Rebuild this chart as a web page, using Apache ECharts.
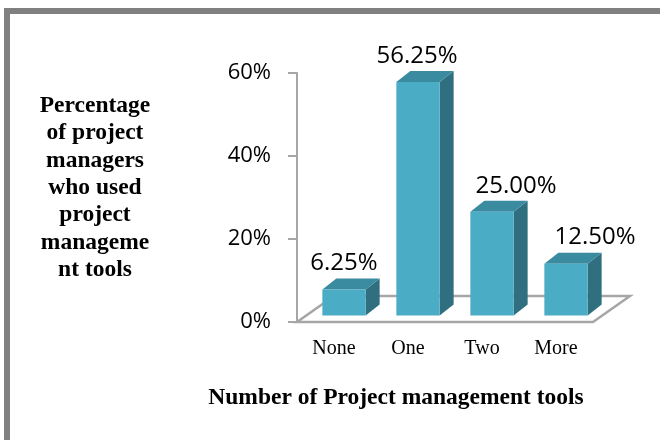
<!DOCTYPE html>
<html>
<head>
<meta charset="utf-8">
<script src="https://cdn.jsdelivr.net/npm/echarts@6/dist/echarts.min.js"></script>
<style>
html,body{margin:0;padding:0;background:#fff}
#grafico{width:660px;height:440px}
</style>
</head>
<body>
<div id="grafico"></div>
<script>
const categorias = ['None', 'One', 'Two', 'More'];
const porcentajes = [6.25, 56.25, 25.00, 12.50];
const ticksY = [0, 20, 40, 60];
const tituloY = ['Percentage', 'of project', 'managers', 'who used', 'project', 'manageme', 'nt tools'];
const tituloX = 'Number of Project management tools';

// ajustes de dibujo (no son datos)
const corrimientoEtiqueta = [0, -1, 24, 29];
const profPiso = [37, -26];
const profBarra = [14, -11];
const frenteBarra = [10, -6.5];

var grafico = document.getElementById('grafico');
var myChart = echarts.init(grafico);

function dibujarPiso(params, api){
    let cs = params.coordSys;
    let yf = cs.y + cs.height;
    let x0 = cs.x, x1 = cs.x + cs.width;
    let dx = profPiso[0], dy = profPiso[1];
    return {
        type: 'polygon',
        shape: {points: [[x0, yf], [x1, yf], [x1 + dx, yf + dy], [x0 + dx, yf + dy]]},
        style: {fill: '#fff', stroke: '#a6a6a6', lineWidth: 2.5}
    };
}

function dibujarBarra(params, api){
    let i = api.value(0);
    let v = api.value(1);
    let base = api.coord([i, 0]);
    let tope = api.coord([i, v]);
    let ancho = api.size([1, 0])[0] * 0.585;
    let cx = base[0] + frenteBarra[0];
    let x0 = cx - ancho / 2;
    let x1 = x0 + ancho;
    let yb = base[1] + frenteBarra[1];
    let yt = tope[1] + frenteBarra[1];
    let dx = profBarra[0], dy = profBarra[1];
    return {
        type: 'group',
        children: [
            {type: 'polygon', shape: {points: [[x1, yb], [x1 + dx, yb + dy], [x1 + dx, yt + dy], [x1, yt]]}, style: {fill: '#2f6f80'}},
            {type: 'polygon', shape: {points: [[x0, yt], [x1, yt], [x1 + dx, yt + dy], [x0 + dx, yt + dy]]}, style: {fill: '#3a8ba0'}},
            {type: 'rect', shape: {x: x0, y: yt, width: ancho, height: yb - yt}, style: {fill: '#4bacc6'}},
            {type: 'text', style: {
                text: v.toFixed(2) + '%',
                x: cx + corrimientoEtiqueta[params.dataIndex], y: yt - 26,
                align: 'center', verticalAlign: 'middle',
                textAlign: 'center', textVerticalAlign: 'middle',
                font: '24px "Open Sans"', fill: '#000'
            }}
        ]
    };
}

var options = {
    animation: false,
    backgroundColor: '#fff',
    grid: {left: 297, right: 67, top: 73, bottom: 118},
    xAxis: {
        type: 'category',
        data: categorias,
        axisLine: {show: false},
        axisTick: {show: false},
        axisLabel: {color: '#000', fontFamily: 'Liberation Serif', fontSize: 20, margin: 17}
    },
    yAxis: {
        type: 'value',
        min: ticksY[0],
        max: ticksY[ticksY.length - 1],
        interval: 20,
        axisLine: {show: true, lineStyle: {color: '#a6a6a6', width: 2}},
        axisTick: {show: true, length: 9, lineStyle: {color: '#a6a6a6', width: 2}},
        splitLine: {show: false},
        axisLabel: {color: '#000', fontFamily: 'Open Sans', fontSize: 22, margin: 26, formatter: '{value}%'}
    },
    graphic: [
        {type: 'rect', shape: {x: 7, y: 11, width: 700, height: 500}, style: {fill: null, stroke: '#808080', lineWidth: 6}},
        {type: 'text', style: {
            text: tituloY.join('\n'), x: 95, y: 188,
            align: 'center', verticalAlign: 'middle', textAlign: 'center', textVerticalAlign: 'middle',
            font: 'bold 23.5px "Liberation Serif"', lineHeight: 27.3, fill: '#000'
        }},
        {type: 'text', style: {
            text: tituloX, x: 396, y: 398,
            align: 'center', verticalAlign: 'middle', textAlign: 'center', textVerticalAlign: 'middle',
            font: 'bold 23.5px "Liberation Serif"', fill: '#000'
        }}
    ],
    series: [
        {type: 'custom', renderItem: dibujarPiso, data: [0], z: 1, silent: true},
        {type: 'custom', renderItem: dibujarBarra, data: porcentajes.map((v, i) => [i, v]), encode: {x: 0, y: 1}, z: 2}
    ]
};
myChart.setOption(options);
</script>
</body>
</html>
